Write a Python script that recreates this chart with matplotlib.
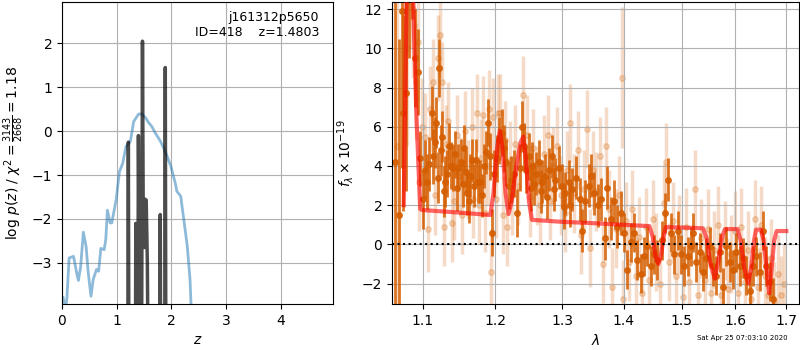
import numpy as np
import matplotlib
matplotlib.use("Agg")
import matplotlib.pyplot as plt
from matplotlib.ticker import FixedLocator, FormatStrFormatter, NullLocator

# ----------------------------
# Redshift fit: chi2 curve and p(z)
# ----------------------------
z_chi = [0.00, 0.02, 0.06, 0.09, 0.13, 0.21, 0.28, 0.30, 0.34, 0.39, 0.44,
         0.48, 0.53, 0.57, 0.63, 0.67, 0.71, 0.77, 0.80, 0.83, 0.88, 0.91,
         0.99, 1.05, 1.11, 1.17, 1.25, 1.31, 1.40, 1.46, 1.53, 1.58, 1.64,
         1.70, 1.80, 1.90, 1.99, 2.07, 2.10, 2.17, 2.21, 2.29, 2.34, 2.37]
logp_chi = [-3.80, -3.78, -4.10, -3.80, -2.89, -2.85, -3.30, -3.40, -3.10,
            -2.30, -2.62, -3.23, -3.76, -3.38, -3.15, -3.19, -2.67, -2.70,
            -2.47, -1.80, -2.09, -2.09, -1.56, -0.92, -0.73, -0.35, -0.23,
            0.22, 0.39, 0.39, 0.30, 0.20, 0.11, -0.03, -0.23, -0.50, -0.80,
            -1.18, -1.37, -1.48, -1.86, -2.62, -3.38, -4.30]

z_pdf = [1.00, 1.195, 1.213, 1.230, 1.335, 1.349, 1.365, 1.385, 1.397, 1.412,
         1.428, 1.455, 1.471, 1.487, 1.502, 1.520, 1.539, 1.560, 1.595, 1.780,
         1.796, 1.812, 1.872, 1.888, 1.904, 2.50]
logpdf = [-9, -9, -0.25, -9, -9, -2.1, -5.5, -5.0, -0.1, -3.4, -3.6, -5.0,
          2.05, -2.6, -2.65, -1.55, -1.57, -3.0, -9, -9, -1.9, -9, -9, 1.45,
          -9, -9]

# ----------------------------
# Spectrum (units of 1e-19)
# ----------------------------
dark_wave = [1.0645, 1.0690, 1.0731, 1.0752, 1.0787, 1.0825, 1.0860, 1.0895,
             1.0939, 1.0970, 1.1005, 1.1036, 1.1060, 1.1089, 1.1120, 1.1140,
             1.1160, 1.1182, 1.1205, 1.1223, 1.1245, 1.1266, 1.1285, 1.1302,
             1.1333, 1.1355, 1.1379, 1.1414, 1.1437, 1.1460, 1.1482, 1.1518,
             1.1540, 1.1563, 1.1586, 1.1605, 1.1627, 1.1650, 1.1678, 1.1700,
             1.1724, 1.1756, 1.1789, 1.1815, 1.1840, 1.1873, 1.1901, 1.1925,
             1.1957, 1.1990, 1.2020, 1.2052, 1.2101, 1.2125, 1.2150, 1.2198,
             1.2233, 1.2271, 1.2311, 1.2360, 1.2385, 1.2419, 1.2444, 1.2494,
             1.2520, 1.2544, 1.2570, 1.2594, 1.2644, 1.2670, 1.2694, 1.2745,
             1.2770, 1.2796, 1.2847, 1.2872, 1.2898, 1.2950, 1.3001, 1.3030,
             1.3053, 1.3106, 1.3130, 1.3158, 1.3227, 1.3279, 1.3317, 1.3370,
             1.3423, 1.3462, 1.3515, 1.3570, 1.3625, 1.3680, 1.3724, 1.3779,
             1.3835, 1.3890, 1.3945, 1.4002, 1.4057, 1.4113, 1.4170, 1.4227,
             1.4284, 1.4341, 1.4399, 1.4457, 1.4516, 1.4574, 1.4645, 1.4703,
             1.4751, 1.4810, 1.4871, 1.4931, 1.4991, 1.5052, 1.5113, 1.5174,
             1.5205, 1.5266, 1.5327, 1.5389, 1.5451, 1.5512, 1.5575, 1.5637,
             1.5699, 1.5763, 1.5826, 1.5889, 1.5953, 1.6017, 1.6081, 1.6146,
             1.6210, 1.6275, 1.6341, 1.6406, 1.6472, 1.6538, 1.6605, 1.6671,
             1.6738]
dark_flux = [4.2, 1.5, 11.9, 6.7, 7.7, 13.5, 14.5, 9.5,
             8.8, 4.4, 2.3, 3.8, 3.2, 4.1, 6.7, 4.5,
             5.2, 6.2, 3.4, 9.0, 4.8, 5.5, 2.7, 3.2,
             3.6, 5.0, 4.0, 3.9, 4.6, 2.9, 3.9, 4.2,
             3.1, 4.9, 3.7, 2.6, 2.2, 3.5, 4.3, 3.0,
             4.3, 3.2, 3.2, 2.5, 4.0, 4.7, 6.2, 4.5,
             0.6, 3.6, 4.4, 5.3, 5.7, 4.9, 4.2, 3.0,
             3.3, 3.6, 1.6, 3.9, 6.0, 5.0, 3.8, 4.5,
             2.9, 4.0, 3.1, 3.6, 4.2, 2.7, 3.2, 3.5,
             2.4, 3.8, 4.5, 2.8, 3.3, 3.9, 3.0, 1.9,
             2.6, 3.2, 2.0, 2.8, 3.4, 2.3, 0.7, 2.2,
             3.0, 3.5, 2.6, 2.0, 2.3, 0.3, 2.9, 1.3,
             2.2, 0.9, 1.6, 0.6, -1.3, 0.1, 0.6, -0.8,
             -1.5, -0.6, -0.1, -1.1, -0.5, -0.8, 0.2, 1.6,
             3.3, 0.6, -0.5, 0.7, -0.5, -1.1, -0.6, -0.1,
             0.6, -0.9, -0.4, -1.4, -0.7, -0.1, -1.1, -1.6,
             -0.4, -2.2, -0.1, -0.9, -1.3, -0.4, -1.1, -0.7,
             -1.6, -2.4, -1.1, -0.6, -1.4, 0.7, -1.1, -1.9,
             -2.8]
dark_err = [9.0, 9.0, 8.0, 5.0, 5.0, 4.0, 3.0, 2.5,
            2.2, 1.4, 1.5, 1.5, 1.4, 1.4, 1.4, 1.4,
            1.3, 1.3, 1.3, 1.5, 1.3, 1.3, 1.3, 1.3,
            1.2, 1.2, 1.2, 1.2, 1.2, 1.2, 1.2, 1.2,
            1.2, 1.2, 1.1, 1.1, 1.1, 1.1, 1.1, 1.1,
            1.1, 1.1, 1.1, 1.1, 1.1, 1.1, 1.2, 1.2,
            1.2, 1.2, 1.2, 1.2, 1.2, 1.2, 1.2, 1.2,
            1.2, 1.2, 1.2, 1.2, 1.3, 1.2, 1.2, 1.2,
            1.2, 1.2, 1.1, 1.1, 1.1, 1.1, 1.1, 1.1,
            1.1, 1.1, 1.1, 1.1, 1.1, 1.1, 1.1, 1.1,
            1.1, 1.1, 1.1, 1.1, 1.1, 1.1, 1.1, 1.1,
            1.1, 1.1, 1.1, 1.1, 1.1, 1.1, 1.1, 1.1,
            1.1, 1.1, 1.1, 1.0, 1.0, 1.0, 1.0, 1.0,
            1.0, 1.0, 1.0, 1.0, 1.0, 1.0, 1.0, 1.0,
            1.1, 1.0, 1.0, 1.0, 1.0, 1.0, 1.0, 1.0,
            1.0, 1.0, 1.0, 1.0, 1.0, 1.0, 1.0, 1.0,
            1.0, 1.0, 1.0, 1.0, 1.0, 1.0, 1.0, 1.0,
            1.0, 1.0, 1.0, 1.0, 1.0, 1.0, 1.0, 1.0,
            1.1]

light_wave = [1.0670, 1.0770, 1.0800, 1.0840, 1.0880, 1.0920, 1.0934, 1.0955,
              1.0990, 1.1026, 1.1066, 1.1100, 1.1138, 1.1170, 1.1200, 1.1230,
              1.1255, 1.1280, 1.1320, 1.1345, 1.1390, 1.1425, 1.1470, 1.1500,
              1.1530, 1.1575, 1.1615, 1.1665, 1.1690, 1.1740, 1.1765, 1.1800,
              1.1830, 1.1860, 1.1890, 1.1915, 1.1945, 1.1975, 1.2005, 1.2040,
              1.2075, 1.2110, 1.2140, 1.2175, 1.2215, 1.2250, 1.2290, 1.2330,
              1.2405, 1.2460, 1.2510, 1.2560, 1.2610, 1.2660, 1.2720, 1.2780,
              1.2820, 1.2860, 1.2925, 1.2980, 1.3040, 1.3080, 1.3120, 1.3190,
              1.3250, 1.3300, 1.3340, 1.3400, 1.3445, 1.3490, 1.3545, 1.3600,
              1.3650, 1.3700, 1.3750, 1.3805, 1.3860, 1.3915, 1.3963, 1.3980,
              1.4030, 1.4085, 1.4140, 1.4200, 1.4255, 1.4310, 1.4370, 1.4430,
              1.4490, 1.4545, 1.4610, 1.4680, 1.4730, 1.4780, 1.4840, 1.4900,
              1.4960, 1.5020, 1.5080, 1.5140, 1.5250, 1.5300, 1.5360, 1.5420,
              1.5480, 1.5540, 1.5600, 1.5670, 1.5730, 1.5795, 1.5860, 1.5920,
              1.5985, 1.6050, 1.6115, 1.6180, 1.6240, 1.6310, 1.6375, 1.6440,
              1.6505, 1.6570, 1.6640, 1.6700, 1.6765, 1.6830, 1.6900, 1.6960]
light_flux = [5.0, 12.5, 10.0, 14.0, 12.0, 8.3, 10.3, 3.2,
              6.0, 5.5, 0.8, 6.9, 8.3, 2.5, 9.5, 10.7,
              8.3, 0.9, 5.1, 6.3, 1.1, 2.2, 5.6, 3.5,
              1.5, 5.8, 3.3, 6.0, 2.3, 6.7, 2.0, 4.4,
              6.6, 1.6, 4.0, 6.9, -1.4, 6.5, 2.3, 6.7,
              6.7, 1.5, 5.3, 0.9, 4.3, 2.5, 5.1, 3.0,
              7.6, 5.6, 2.4, 4.9, 3.0, 2.0, 4.6, 5.6,
              2.2, 4.0, 5.0, 2.5, 1.6, 3.8, 6.2, 2.6,
              4.8, 0.5, 2.8, 5.9, -0.2, 3.8, 2.7, 4.5,
              -1.0, 5.0, 1.8, -2.2, 0.8, 2.5, 8.5, -2.8,
              1.2, -0.9, 1.8, -1.6, 0.4, -2.5, 0.9, -1.8,
              1.3, -0.4, -2.0, 2.1, 4.2, -0.9, 1.2, -1.6,
              0.5, -2.7, 0.9, -1.9, 2.8, -2.6, 0.3, -1.8,
              0.8, -2.5, -0.3, 1.0, -2.6, 0.2, -2.3, -0.5,
              0.7, -2.5, 0.9, -1.9, -0.3, -2.8, 1.3, -2.2,
              1.0, -1.6, -2.6, -0.7, -2.9, -1.5, -2.6, -2.0]
light_err = [9.0, 6.0, 5.0, 4.0, 3.5, 3.0, 3.0, 2.5,
             2.5, 2.2, 2.2, 2.2, 2.2, 2.0, 2.2, 2.2,
             2.0, 2.0, 2.0, 2.0, 2.0, 2.0, 2.0, 2.0,
             2.0, 2.0, 2.0, 2.0, 2.0, 2.0, 2.0, 2.0,
             2.0, 2.0, 2.0, 2.0, 2.2, 2.0, 2.0, 2.0,
             2.0, 2.0, 2.0, 2.0, 2.0, 2.0, 2.0, 2.0,
             2.0, 2.0, 2.0, 2.0, 2.0, 2.0, 2.0, 2.0,
             2.0, 2.0, 2.0, 2.0, 2.0, 2.0, 2.0, 2.0,
             2.0, 2.0, 2.0, 2.0, 2.0, 2.0, 2.0, 2.0,
             2.0, 2.0, 2.0, 2.0, 2.0, 2.0, 3.6, 2.0,
             2.0, 2.0, 2.0, 2.0, 2.0, 2.0, 2.0, 2.0,
             2.0, 2.0, 2.0, 2.0, 2.0, 2.0, 2.0, 2.0,
             2.0, 2.0, 2.0, 2.0, 2.0, 2.0, 2.0, 2.0,
             2.0, 2.0, 2.0, 2.0, 2.0, 2.0, 2.0, 2.0,
             2.0, 2.0, 2.0, 2.0, 2.0, 2.0, 2.0, 2.0,
             2.0, 2.0, 2.0, 2.0, 2.0, 2.0, 2.0, 2.0]

# best-fit model
model_wave = [1.0755, 1.0790, 1.0810, 1.0870, 1.0890, 1.0920, 1.0970, 1.1000,
              1.1500, 1.1930, 1.1975, 1.2030, 1.2068, 1.2105, 1.2150, 1.2194,
              1.2240, 1.2300, 1.2370, 1.2411, 1.2450, 1.2495, 1.2540, 1.3000,
              1.3500, 1.4433, 1.4490, 1.4540, 1.4590, 1.4640, 1.4680, 1.4720,
              1.5000, 1.5390, 1.5460, 1.5520, 1.5610, 1.5680, 1.5740, 1.5800,
              1.6040, 1.6100, 1.6170, 1.6250, 1.6310, 1.6360, 1.6400, 1.6495,
              1.6550, 1.6610, 1.6660, 1.6710, 1.6760, 1.6810, 1.7005]
model_flux = [2.0, 12.0, 14.0, 14.0, 10.5, 6.5, 1.8, 1.75,
              1.62, 1.50, 2.6, 5.0, 5.8, 4.9, 2.6, 1.55,
              2.2, 3.8, 5.2, 5.5, 4.3, 2.2, 1.25, 1.15,
              1.08, 0.93, 0.4, -0.6, -1.0, -0.5, 0.4, 0.88,
              0.86, 0.82, 0.3, -0.9, -1.75, -0.8, 0.3, 0.78,
              0.78, 0.2, -1.2, -2.0, -1.1, 0.2, 0.75, 0.75,
              0.2, -1.3, -2.5, -1.2, 0.2, 0.68, 0.68]

G141 = (0.8352941176470589, 0.3686274509803922, 0.0)

fig = plt.figure(figsize=(8, 3.5), dpi=100)
ax1 = fig.add_axes([0.0775, 0.131, 0.3385, 0.863])
ax2 = fig.add_axes([0.49, 0.131, 0.509, 0.863])

# ----------------------------
# left: p(z)
# ----------------------------
ax1.plot(z_chi, logp_chi, color="C0", alpha=0.5, lw=2)
ax1.plot(z_pdf, logpdf, color="k", alpha=0.7, lw=2.5)
ax1.set_xlim(0, 4.95)
ax1.set_ylim(-3.94, 2.94)
ax1.set_yticks([-3, -2, -1, 0, 1, 2])
ax1.set_xticks([0, 1, 2, 3, 4])
ax1.grid()
ax1.set_xlabel(r"$z$")
ax1.set_ylabel(r"log $p(z)$ / $\chi^2=\frac{3143}{2668}=1.18$")
ax1.text(0.95, 0.97, "j161312p5650\nID=418    z=1.4803", transform=ax1.transAxes,
         ha="right", va="top", fontsize=9)

# ----------------------------
# right: spectrum
# ----------------------------
ax2.errorbar(light_wave, light_flux, yerr=light_err, color=G141, alpha=0.22,
             marker="o", ms=4, linestyle="none", elinewidth=2.5, zorder=1)
ax2.errorbar(dark_wave, dark_flux, yerr=dark_err, color=G141, alpha=0.85,
             marker="o", ms=4, linestyle="none", elinewidth=2, zorder=2)
ax2.plot(model_wave, model_flux, color="red", alpha=0.6, lw=3, zorder=3)
ax2.axhline(0, color="k", linestyle=":", lw=1.5, zorder=4)

ax2.set_xscale("log")
ax2.set_xlim(1.0605, 1.727)
ax2.set_ylim(-3.05, 12.36)
ax2.xaxis.set_major_locator(FixedLocator([1.1, 1.2, 1.3, 1.4, 1.5, 1.6, 1.7]))
ax2.xaxis.set_major_formatter(FormatStrFormatter("%.1f"))
ax2.xaxis.set_minor_locator(NullLocator())
ax2.set_yticks([-2, 0, 2, 4, 6, 8, 10, 12])
ax2.grid()
ax2.set_xlabel(r"$\lambda$")
ax2.set_ylabel(r"$f_\lambda \times 10^{-19}$")

fig.text(0.985, 0.025, "Sat Apr 25 07:03:10 2020", ha="right", va="bottom", fontsize=5)

plt.savefig("out.png", dpi=100)
